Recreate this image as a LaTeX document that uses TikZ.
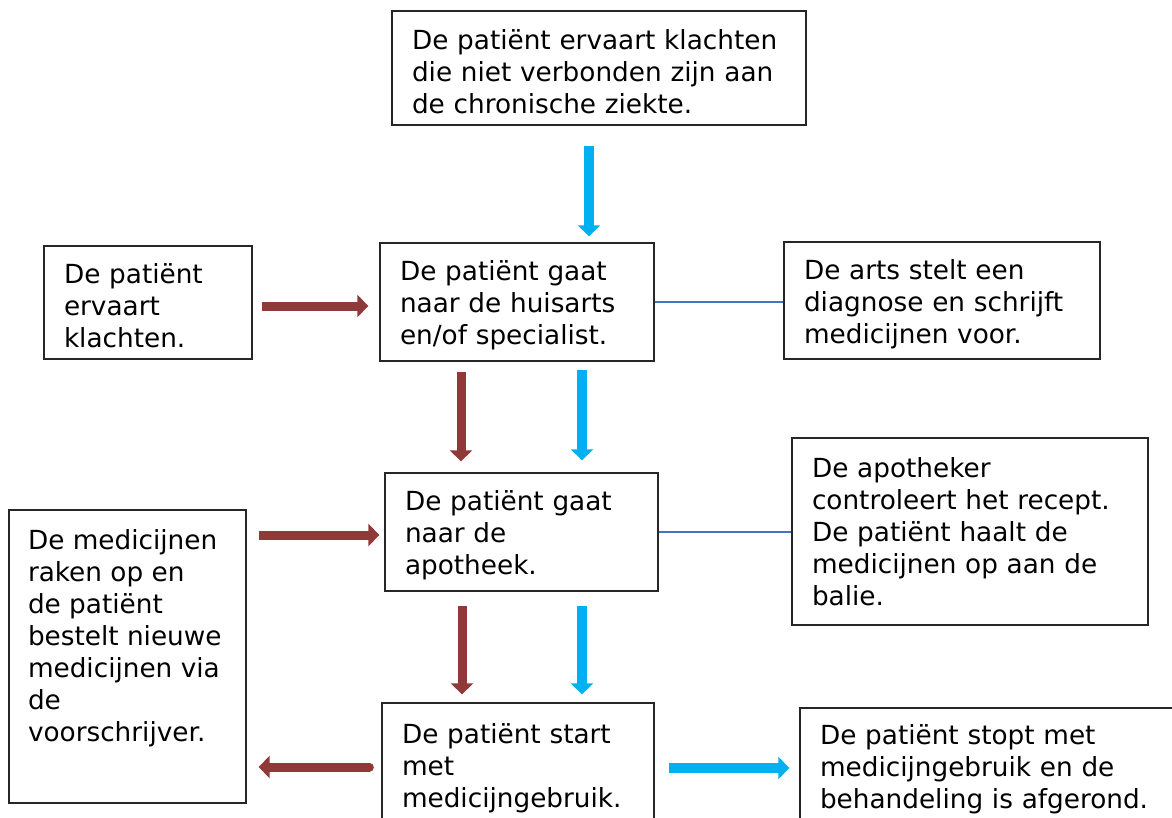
\documentclass[tikz,border=0pt]{standalone}
\usepackage{fontspec}
\setmainfont{DejaVu Sans}
\usetikzlibrary{arrows.meta,calc}
\definecolor{redarr}{RGB}{143,57,57}
\definecolor{bluearr}{RGB}{0,176,240}
\definecolor{linkblue}{RGB}{68,114,196}
\begin{document}
\begin{tikzpicture}[x=1pt,y=-1pt,
  box/.style={draw=black!85, line width=1.3pt, inner xsep=20pt, inner ysep=0pt,
    align=left, font=\fontsize{26.3}{32}\selectfont},
  shifted/.style={execute at begin node={\rule{0pt}{27pt}}},
  redarrow/.style={draw=redarr, line width=9pt, -{Triangle[width=22pt,length=11pt]}},
  bluearrow/.style={draw=bluearr, line width=10pt, -{Triangle[width=22pt,length=11pt]}},
  link/.style={draw=linkblue, line width=1.5pt}]
\useasboundingbox (0,0) rectangle (1172,818);
\clip (0,0) rectangle (1172,818);
\fill[white] (0,0) rectangle (1172,818);

\node[box, shifted, text width=374pt, minimum height=114pt] (top) at (599,68)
  {De patiënt ervaart klachten\\die niet verbonden zijn aan\\de chronische ziekte.};
\node[box, shifted, text width=168pt, minimum height=113pt] (exp) at (148,302.5)
  {De patiënt\\ervaart\\klachten.};
\node[box, shifted, text width=234pt, minimum height=118pt] (hu) at (517,302)
  {De patiënt gaat\\naar de huisarts\\en/of specialist.};
\node[box, shifted, text width=276pt, minimum height=117pt] (arts) at (942,300.5)
  {De arts stelt een\\diagnose en schrijft\\medicijnen voor.};
\node[box, shifted, text width=233pt, minimum height=118pt] (apo) at (521.5,532)
  {De patiënt gaat\\naar de\\apotheek.};
\node[box, text width=316pt, minimum height=187pt] (apk) at (970,531.5)
  {De apotheker\\controleert het recept.\\De patiënt haalt de\\medicijnen op aan de\\balie.};
\node[box, inner xsep=19pt, inner ysep=20pt] (med) at (127.5,656.5)
  {\parbox[c][253pt][t]{199pt}{\raggedright De medicijnen\\raken op en\\de patiënt\\bestelt nieuwe\\medicijnen via\\de\\voorschrijver.}};
\node[box, shifted, text width=232pt, minimum height=124pt] (start) at (518,765)
  {De patiënt start\\met\\medicijngebruik.};
\node[box, text width=345pt, minimum height=122pt] (stop) at (992.5,769)
  {De patiënt stopt met\\medicijngebruik en de\\behandeling is afgerond.};

% connectors
\draw[bluearrow, shorten <=20pt, shorten >=6pt]
  ([xshift=-10pt]top.south) -- ([xshift=-10pt]top.south |- hu.north);
\draw[redarrow, shorten <=9pt, shorten >=11pt]
  ([yshift=-3.5pt]exp.east) -- ([yshift=-3.5pt]exp.east -| hu.west);
\draw[link] (hu.east) -- (hu.east -| arts.west);
\draw[redarrow, shorten <=10pt, shorten >=11pt]
  ([xshift=-56pt]hu.south) -- ([xshift=-56pt]hu.south |- apo.north);
\draw[bluearrow, shorten <=8pt, shorten >=12pt]
  ([xshift=65pt]hu.south) -- ([xshift=65pt]hu.south |- apo.north);
\draw[redarrow, shorten <=12pt, shorten >=5pt]
  ([yshift=-3pt]apo.west -| med.east) -- ([yshift=-3pt]apo.west);
\draw[link] (apo.east) -- (apo.east -| apk.west);
\draw[redarrow, shorten <=14pt, shorten >=8pt]
  ([xshift=-59.5pt]apo.south) -- ([xshift=-59.5pt]apo.south |- start.north);
\draw[bluearrow, shorten <=14pt, shorten >=8pt]
  ([xshift=60.5pt]apo.south) -- ([xshift=60.5pt]apo.south |- start.north);
\draw[redarrow, line cap=round, shorten <=12pt, shorten >=12pt]
  ([yshift=-2pt]start.west) -- ([yshift=-2pt]start.west -| med.east);
\draw[bluearrow, shorten <=14pt, shorten >=10pt]
  ([yshift=-3pt]start.east) -- ([yshift=-3pt]start.east -| stop.west);
\end{tikzpicture}
\end{document}
